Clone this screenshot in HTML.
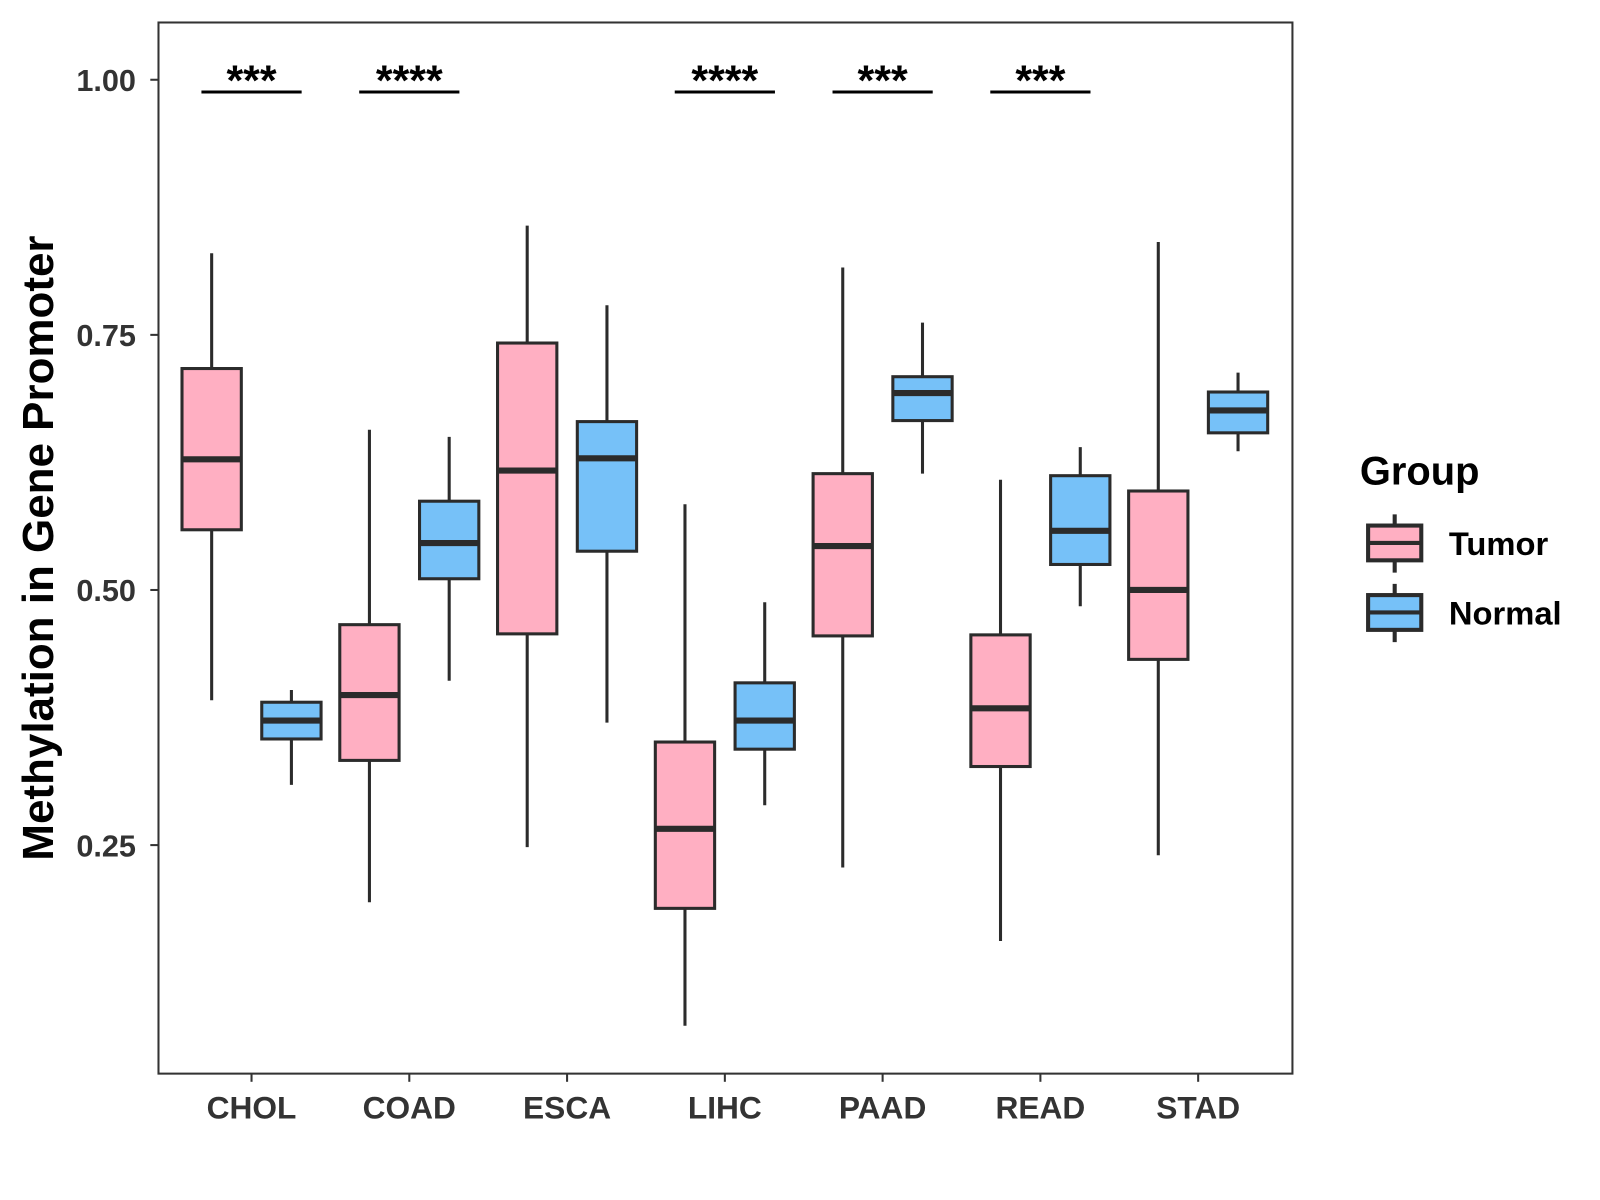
<!DOCTYPE html>
<html><head><meta charset="utf-8"><style>
html,body{margin:0;padding:0;background:#fff;}
svg{display:block;font-family:"Liberation Sans",Arial,sans-serif;}
</style></head><body>
<svg id="chart" width="1600" height="1200" viewBox="0 0 1600 1200">
<rect x="0" y="0" width="1600" height="1200" fill="#fff"/>
<g transform="scale(1.0225)">
<g id="plot"></g>
<rect x="155" y="22" width="1109" height="1028" fill="none" stroke="#333" stroke-width="2"/>
<text x="0" y="0" transform="translate(52,536) rotate(-90)" text-anchor="middle" font-size="43" font-weight="bold" fill="#000">Methylation in Gene Promoter</text>
<g>
<text x="1330" y="474" font-size="39" font-weight="bold" fill="#000">Group</text>
<g>
<line x1="1364" y1="503" x2="1364" y2="560" stroke="#2b2b2b" stroke-width="4"/>
<rect x="1338" y="514" width="52" height="34" fill="#FFAFC2" stroke="#2b2b2b" stroke-width="4"/>
<line x1="1338" y1="531" x2="1390" y2="531" stroke="#2b2b2b" stroke-width="4"/>
<text x="1417" y="543" font-size="32" font-weight="bold" fill="#000">Tumor</text>
</g>
<g>
<line x1="1364" y1="571" x2="1364" y2="628" stroke="#2b2b2b" stroke-width="4"/>
<rect x="1338" y="582" width="52" height="34" fill="#76C1F8" stroke="#2b2b2b" stroke-width="4"/>
<line x1="1338" y1="599" x2="1390" y2="599" stroke="#2b2b2b" stroke-width="4"/>
<text x="1417" y="611" font-size="32" font-weight="bold" fill="#000">Normal</text>
</g>
</g>
</g>
</svg>
<script>
const categories = ["CHOL","COAD","ESCA","LIHC","PAAD","READ","STAD"];
// [lower whisker, q1, median, q3, upper whisker]
const tumorStats = [
  [0.392,0.559,0.628,0.717,0.830],
  [0.194,0.333,0.397,0.466,0.657],
  [0.248,0.457,0.617,0.742,0.857],
  [0.073,0.188,0.266,0.351,0.584],
  [0.228,0.455,0.543,0.614,0.816],
  [0.156,0.327,0.384,0.456,0.608],
  [0.240,0.432,0.500,0.597,0.841]
];
const normalStats = [
  [0.309,0.354,0.372,0.390,0.402],
  [0.411,0.511,0.546,0.587,0.650],
  [0.370,0.538,0.629,0.665,0.779],
  [0.289,0.344,0.372,0.409,0.488],
  [0.614,0.666,0.693,0.709,0.762],
  [0.484,0.525,0.558,0.612,0.640],
  [0.636,0.654,0.676,0.694,0.713]
];
const significance = ["***","****","","****","***","***",""];
const yTicks = [0.25,0.50,0.75,1.00];
const yTickLabels = ["0.25","0.50","0.75","1.00"];
const sigLevel = 0.988;

const NS='http://www.w3.org/2000/svg';
const plot=document.getElementById('plot');
const y=v=>78+(1-v)*998;
const x=i=>246+i*154.3;
function mk(tag,attrs,parent){const e=document.createElementNS(NS,tag);for(const k in attrs)e.setAttribute(k,attrs[k]);(parent||plot).appendChild(e);return e;}

yTicks.forEach((t,i)=>{
  const g=mk('g',{});
  
  
  mk('line',{x1:147,x2:155,y1:y(t),y2:y(t),stroke:'#333','stroke-width':2},g);
  const tx=mk('text',{x:133,y:y(t)+11,'text-anchor':'end','font-size':30,'font-weight':'bold',fill:'#333'},g);
  tx.textContent=yTickLabels[i];
});

function drawBox(s,cx,fill,name){
  const g=mk('g',{});
  
  
  const w=58;
  mk('line',{x1:cx,x2:cx,y1:y(s[4]),y2:y(s[0]),stroke:'#2b2b2b','stroke-width':3},g);
  mk('rect',{x:cx-w/2,y:y(s[3]),width:w,height:y(s[1])-y(s[3]),fill:fill,stroke:'#2b2b2b','stroke-width':3},g);
  mk('line',{x1:cx-w/2,x2:cx+w/2,y1:y(s[2]),y2:y(s[2]),stroke:'#2b2b2b','stroke-width':6},g);
}

categories.forEach((c,i)=>{
  const cx=x(i);
  drawBox(tumorStats[i],cx-39,'#FFAFC2','box-tumor-'+c.toLowerCase());
  drawBox(normalStats[i],cx+39,'#76C1F8','box-normal-'+c.toLowerCase());
  const g=mk('g',{});
  
  
  mk('line',{x1:cx,x2:cx,y1:1050,y2:1058,stroke:'#333','stroke-width':2},g);
  const tx=mk('text',{x:cx,y:1094,'text-anchor':'middle','font-size':31,'font-weight':'bold',fill:'#333'},g);
  tx.textContent=c;
  if(significance[i]){
    const sg=mk('g',{});
    
    
    mk('line',{x1:cx-49,x2:cx+49,y1:y(sigLevel),y2:y(sigLevel),stroke:'#000','stroke-width':3},sg);
    const st=mk('text',{x:cx,y:y(sigLevel)+3,'text-anchor':'middle','font-size':42,'font-weight':'bold',fill:'#000'},sg);
    st.textContent=significance[i];
  }
});
</script>
</body></html>
